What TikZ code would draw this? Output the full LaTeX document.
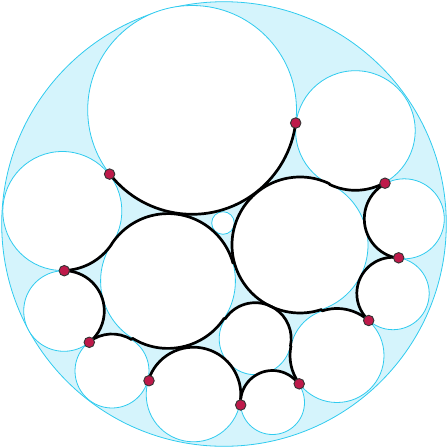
\documentclass[tikz,border=0pt]{standalone}
\definecolor{gapfill}{HTML}{D5F4FC}
\definecolor{rimcyan}{HTML}{2FCBEF}
\definecolor{dotred}{HTML}{BE1A4A}
\begin{document}
\begin{tikzpicture}[x=1pt, y=-1pt,
    disk/.style={draw=rimcyan, fill=white, line width=0.8pt},
    thread/.style={draw=black, line width=2.7pt, line cap=round},
    contact/.style={circle, draw=black!80, fill=dotred, line width=0.9pt, inner sep=0pt, minimum size=10.5pt}]
    \useasboundingbox (0,0) rectangle (448,448);

    % Outer disk
    \draw[draw=rimcyan, fill=gapfill, line width=0.8pt] (224,224) circle[radius=222.3];

    % Packed circles
    \foreach \x/\y/\r in {192.1/109.9/104.4, 355.4/130.5/59.8, 62.3/211/59.5, 404.3/218.8/40,
                          300/245/68, 168/281/67.4, 223/223/11.3, 64/311/40.3, 393/293.5/36.2,
                          112/371/37, 255.2/338.7/36, 337/355.5/47, 193.5/394.5/47.3,
                          272.5/402.5/32}
        \draw[disk] (\x,\y) circle[radius=\r];

    % Arcs between contact points
    \foreach \x/\y/\r/\a/\b in {192.1/109.9/104.4/142.1/7.2, 355.4/130.5/59.8/115.8/61.0,
                                404.3/218.8/40/241.0/98.6, 393/293.5/36.2/278.6/132.1,
                                337/355.5/47/251.5/312.1, 337/355.5/47/191.6/143.9,
                                272.5/402.5/32/185.8/323.9, 193.5/394.5/47.3/196.1/365.8,
                                255.2/338.7/36/213.5/371.6, 112/371/37/231.3/301.9,
                                64/311/40.3/-91/51.3, 62.3/211/59.5/89/33.5,
                                168/281/67.4/213.5/344.7, 168/281/67.4/121.9/33.5,
                                300/245/68/295.8/71.5}
        \draw[thread] (\x,\y) ++(\a:\r) arc[start angle=\a, end angle=\b, radius=\r];

    % Contact points on the rim
    \foreach \x/\y [count=\i] in {109.6/174.1, 295.7/123, 385/183.2, 398.7/257.8, 368.7/320.5,
                                  299.2/383.8, 240.7/405, 149/380.7, 89.3/342.3, 64.3/270.7}
        \node[contact] (t\i) at (\x,\y) {};
\end{tikzpicture}
\end{document}
